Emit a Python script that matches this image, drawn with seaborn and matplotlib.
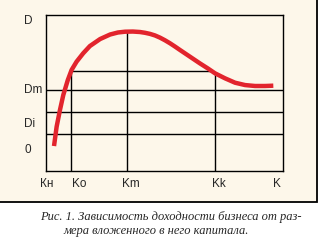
import matplotlib
matplotlib.use("Agg")
import matplotlib.pyplot as plt
import matplotlib.patches as mpatches
import seaborn as sns
import pandas as pd

# ---- data ----
curve_x = [3.5, 4.6, 6.0, 7.4, 9.3, 10.9, 13.0, 15.8, 18.6, 22.9, 27.1, 30.4, 33.4, 36.7,
           39.7, 41.8, 43.9, 46.0, 48.1, 50.2, 52.3, 54.4, 56.5, 60.7, 64.9, 68.3, 71.3,
           75.5, 79.7, 83.9, 88.1, 92.3, 95.8]
curve_y = [15.8, 28.2, 38.9, 48.5, 58.1, 64.6, 69.9, 75.3, 79.9, 84.4, 87.3, 88.6, 89.1, 89.2,
           88.9, 88.4, 87.7, 86.7, 85.3, 83.6, 81.7, 79.6, 77.4, 73.1, 68.8, 65.5, 62.4,
           59.2, 56.4, 54.9, 54.3, 54.3, 54.5]

# horizontal guide lines: (y, x_start, x_end)
hlines_y = [63.9, 51.7, 37.4, 23.3]
hlines_x0 = [10.8, 0, 0, 0]
hlines_x1 = [69.8, 100, 100, 100]
# vertical guide lines: (x, y_top)
vlines_x = [10.8, 34.1, 71.4]
vlines_top = [64.2, 89.1, 62.4]

y_labels = ["D", "Dm", "Di", "0"]
y_label_pos = [96.2, 51.7, 29.9, 13.3]
x_labels = ["Кн", "Ko", "Km", "Kk", "K"]
x_label_pos = [0.4, 14.1, 35.9, 72.9, 97.2]

caption = ["Рис. 1. Зависимость доходности бизнеса от раз-",
           "мера вложенного в него капитала."]

sns.set_style("white")
plt.rcParams['font.family'] = ['Liberation Sans', 'DejaVu Sans']

fig = plt.figure(figsize=(3.19, 2.46), dpi=100, facecolor="white")

cream = "#fdf7ea"
box = mpatches.Rectangle((-0.01, (246 - 202) / 246), 316.7 / 319 + 0.01, 1 - (246 - 202) / 246 + 0.01,
                         transform=fig.transFigure, facecolor=cream, edgecolor="black",
                         linewidth=1.3, zorder=-5)
fig.patches.append(box)

ax = fig.add_axes([45.7 / 319, (246 - 170.7) / 246, (283.3 - 45.7) / 319, 156 / 246])
ax.set_zorder(2)
ax.patch.set_visible(False)
for s in ax.spines.values():
    s.set_visible(True)
    s.set_color("black")
    s.set_linewidth(1.0)

for y, x0, x1 in zip(hlines_y, hlines_x0, hlines_x1):
    ax.plot([x0, x1], [y, y], color="black", lw=1.0, zorder=1)
for x, top in zip(vlines_x, vlines_top):
    ax.plot([x, x], [0, top], color="black", lw=1.0, zorder=1)

df = pd.DataFrame({"x": curve_x, "y": curve_y})
sns.lineplot(data=df, x="x", y="y", ax=ax, color="#e2242d", lw=3.2, sort=False,
             zorder=3, solid_capstyle="butt", solid_joinstyle="round")
ax.set_xlabel("")
ax.set_ylabel("")
ax.set_xticks([])
ax.set_yticks([])
ax.set_xlim(0, 100)
ax.set_ylim(0, 100)

for lab, y in zip(y_labels, y_label_pos):
    ax.text(-9.05, y, lab, ha="left", va="center", fontsize=8.5, clip_on=False)
for lab, x in zip(x_labels, x_label_pos):
    ax.text(x, -8.5, lab, ha="center", va="center", fontsize=8.5, clip_on=False)

fig.text(171 / 319, 1 - 217 / 246, caption[0], ha="center", va="center",
         family=["Liberation Serif", "DejaVu Serif"], style="italic", fontsize=9)
fig.text(156 / 319, 1 - 231 / 246, caption[1], ha="center", va="center",
         family=["Liberation Serif", "DejaVu Serif"], style="italic", fontsize=9)

fig.savefig("out.png", dpi=100, facecolor="white")
